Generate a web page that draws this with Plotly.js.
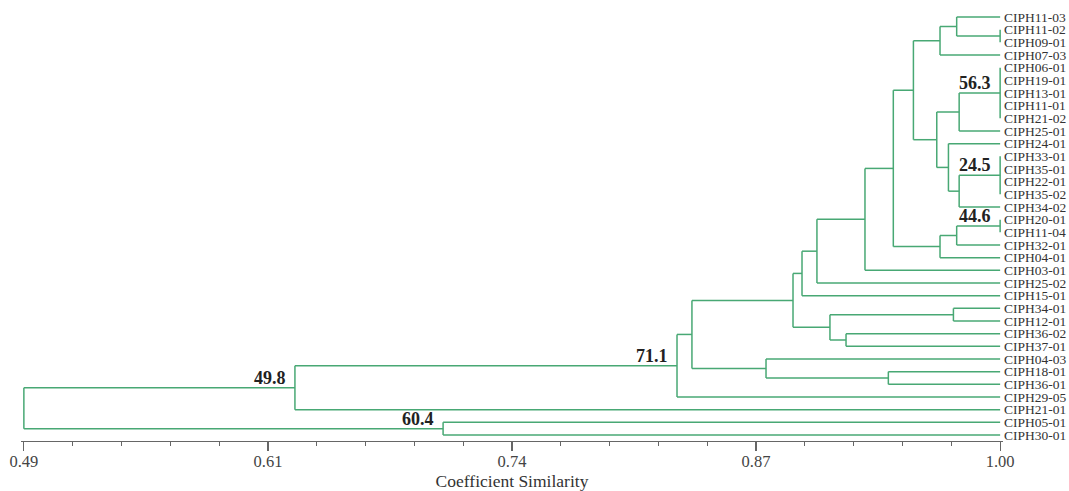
<!DOCTYPE html>
<html><head><meta charset="utf-8">
<script src="https://cdn.plot.ly/plotly-3.0.1.min.js"></script>
<style>html,body{margin:0;padding:0;background:#fff}#chart{width:1069px;height:491px}</style>
</head><body><div id="chart"></div>
<script>
// Leaf labels, top to bottom
const leaves = ['CIPH11-03','CIPH11-02','CIPH09-01','CIPH07-03','CIPH06-01','CIPH19-01','CIPH13-01',
  'CIPH11-01','CIPH21-02','CIPH25-01','CIPH24-01','CIPH33-01','CIPH35-01','CIPH22-01','CIPH35-02',
  'CIPH34-02','CIPH20-01','CIPH11-04','CIPH32-01','CIPH04-01','CIPH03-01','CIPH25-02','CIPH15-01',
  'CIPH34-01','CIPH12-01','CIPH36-02','CIPH37-01','CIPH04-03','CIPH18-01','CIPH36-01','CIPH29-05',
  'CIPH21-01','CIPH05-01','CIPH30-01'];
// Merges: children (leaf index 0..33, or cluster id 34+ in order) and similarity height
const mergeChildren = [
  [1,2],[0,34],[35,3],[4,5,6,7,8],[37,9],[11,12,13,14],[39,15],[10,40],[38,41],[36,42],
  [16,17],[44,18],[45,19],[43,46],[47,20],[48,21],[49,22],[23,24],[25,26],[51,52],
  [50,53],[28,29],[27,55],[54,56],[57,30],[58,31],[32,33],[59,60]];
const mergeHeights = [
  1.00,0.9773,0.9686,1.00,0.9786,1.00,0.9786,0.9730,0.9669,0.9547,
  1.00,0.9773,0.9686,0.9442,0.9294,0.9043,0.8965,0.9756,0.9195,0.9111,
  0.8918,0.9416,0.8777,0.8390,0.8312,0.6316,0.7090,0.49];
// Bootstrap labels and the cluster they belong to
const bootNodes = [59, 58, 60, 37, 39, 44];
const bootValues = ['49.8','71.1','60.4','56.3','24.5','44.6'];
// Axis ticks
const tickVals = [0.49, 0.6175, 0.745, 0.8725, 1.00];
const tickText = ['0.49','0.61','0.74','0.87','1.00'];

const n = leaves.length;
const nodeY = leaves.map((_, i) => i);
const nodeH = leaves.map(() => 1.0);
const lx = [], ly = [];
mergeChildren.forEach((ch, k) => {
  const h = mergeHeights[k];
  const ys = ch.map(c => nodeY[c]);
  const y0 = Math.min(...ys), y1 = Math.max(...ys);
  lx.push(h, h, null); ly.push(y0, y1, null);
  ch.forEach(c => { lx.push(nodeH[c], h, null); ly.push(nodeY[c], nodeY[c], null); });
  nodeY.push((y0 + y1) / 2);
  nodeH.push(h);
});

const serif = 'Liberation Serif, Times New Roman, serif';
const annotations = bootNodes.map((id, i) => ({
  x: nodeH[id], y: nodeY[id], xref: 'x', yref: 'y',
  text: '<b>' + bootValues[i] + '</b>', showarrow: false,
  xanchor: 'right', yanchor: 'bottom', xshift: -7, yshift: -2,
  font: {family: serif, size: 18, color: '#222'}
}));

const trace = {x: lx, y: ly, mode: 'lines', type: 'scatter', hoverinfo: 'skip',
  line: {color: '#48a874', width: 1.5}, connectgaps: false};

const layout = {
  width: 1069, height: 491,
  margin: {l: 21, r: 66, t: 11, b: 50},
  paper_bgcolor: '#fff', plot_bgcolor: '#fff',
  showlegend: false,
  xaxis: {
    range: [0.4885, 1.0015], showgrid: false, zeroline: false,
    showline: true, linecolor: '#666', linewidth: 1.2,
    ticks: 'outside', ticklen: 9, tickcolor: '#666', tickwidth: 1.2,
    tickmode: 'array', tickvals: tickVals, ticktext: tickText,
    ticklabelstandoff: -4,
    tickfont: {family: serif, size: 16.5, color: '#444'},
    minor: {tickmode: 'linear', tick0: 0.49, dtick: 0.0255, ticks: 'outside', ticklen: 4, tickcolor: '#666', tickwidth: 1.2, showgrid: false},
    title: {text: 'Coefficient Similarity', font: {family: serif, size: 17.5, color: '#333'}, standoff: 6}
  },
  yaxis: {
    range: [33.474, -0.474], side: 'right', showgrid: false, zeroline: false, showline: false,
    tickmode: 'array', tickvals: leaves.map((_, i) => i), ticktext: leaves, ticks: '',
    ticklabelstandoff: 0,
    tickfont: {family: serif, size: 13.5, color: '#333'}
  },
  annotations: annotations
};
Plotly.newPlot('chart', [trace], layout, {staticPlot: true, displayModeBar: false});
</script>
</body></html>
